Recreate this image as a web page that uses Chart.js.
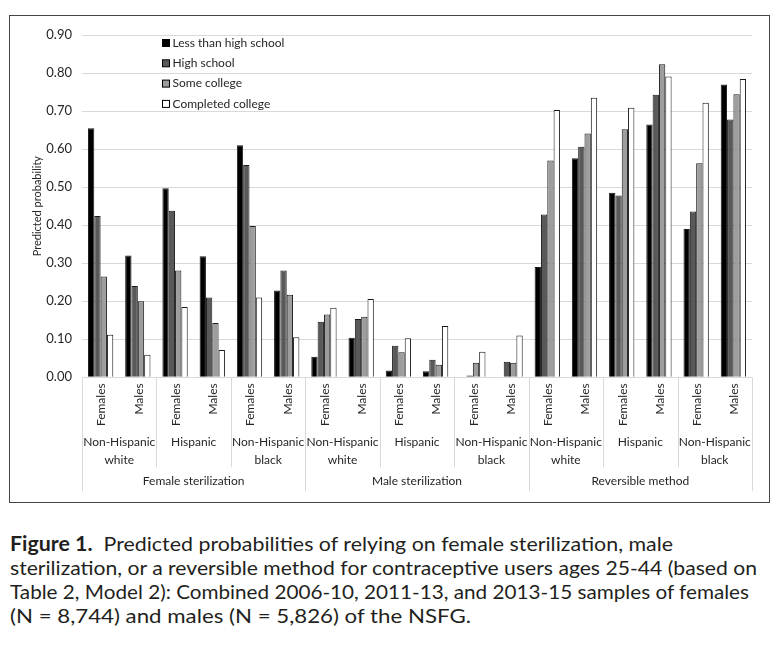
<!DOCTYPE html>
<html>
<head>
<meta charset="utf-8">
<script src="https://cdn.jsdelivr.net/npm/chart.js@4.4.1/dist/chart.umd.min.js"></script>
<style>
    html, body { margin: 0; padding: 0; background: #fff; }
    body { width: 781px; height: 648px; position: relative; overflow: hidden; font-family: Lato, sans-serif; }
    #chart { position: absolute; left: 0; top: 0; }
    #frame { position: absolute; left: 9px; top: 15px; width: 761px; height: 488px; border: 1.5px solid #454545; box-sizing: border-box; }
    #caption { position: absolute; left: 10px; top: 531px; font-size: 20px; line-height: 24px; color: #231f20; }
    .ln { display: block; white-space: nowrap; transform-origin: 0 0; }
</style>
</head>
<body>
<div id="frame"></div>
<canvas id="chart" width="781" height="515"></canvas>
<div id="caption">
    <span class="ln" data-w="663"><b>Figure 1.</b>&nbsp; Predicted probabilities of relying on female sterilization, male</span>
    <span class="ln" data-w="747">sterilization, or a reversible method for contraceptive users ages 25-44 (based on</span>
    <span class="ln" data-w="739">Table 2, Model 2): Combined 2006-10, 2011-13, and 2013-15 samples of females</span>
    <span class="ln" data-w="461">(N = 8,744) and males (N = 5,826) of the NSFG.</span>
</div>
<script>
const CATEGORIES = [
    'Females', 'Males', 'Females', 'Males', 'Females', 'Males',
    'Females', 'Males', 'Females', 'Males', 'Females', 'Males',
    'Females', 'Males', 'Females', 'Males', 'Females', 'Males',
];
const RACE_GROUPS = [
    ['Non-Hispanic', 'white'], ['Hispanic'], ['Non-Hispanic', 'black'],
    ['Non-Hispanic', 'white'], ['Hispanic'], ['Non-Hispanic', 'black'],
    ['Non-Hispanic', 'white'], ['Hispanic'], ['Non-Hispanic', 'black'],
];
const METHODS = ['Female sterilization', 'Male sterilization', 'Reversible method'];

const SERIES_NAMES = ['Less than high school', 'High school', 'Some college', 'Completed college'];
const LESS_THAN_HS = [0.655, 0.320, 0.497, 0.318, 0.610, 0.228, 0.054, 0.104, 0.018, 0.016, 0.000, 0.000, 0.290, 0.576, 0.485, 0.665, 0.390, 0.770];
const HIGH_SCHOOL = [0.424, 0.240, 0.438, 0.210, 0.558, 0.281, 0.146, 0.153, 0.083, 0.046, 0.005, 0.041, 0.428, 0.606, 0.478, 0.743, 0.436, 0.678];
const SOME_COLLEGE = [0.265, 0.200, 0.281, 0.143, 0.398, 0.217, 0.165, 0.159, 0.066, 0.033, 0.038, 0.038, 0.570, 0.641, 0.652, 0.823, 0.563, 0.744];
const COMPLETED_COLLEGE = [0.112, 0.059, 0.185, 0.072, 0.210, 0.105, 0.183, 0.206, 0.103, 0.135, 0.067, 0.110, 0.703, 0.735, 0.709, 0.791, 0.722, 0.784];

const Y_TICKS = [0, 0.1, 0.2, 0.3, 0.4, 0.5, 0.6, 0.7, 0.8, 0.9];

const COLORS = {
    fills: ['#000000', '#595959', '#9d9d9d', '#ffffff'],
    edge: '#1a1a1a',
    grid: '#d9d9d9',
    text: '#262626',
};
const FONT = 'Lato, sans-serif';

// axis labels, separators, legend and y title drawn on top of the library's scales
const decorations = {
    id: 'decorations',
    afterDraw(chart) {
        const { ctx, scales: { x, y } } = chart;
        const step = x.getPixelForValue(1) - x.getPixelForValue(0);
        const base = y.getPixelForValue(0);
        ctx.save();
        ctx.fillStyle = COLORS.text;

        // gender labels
        ctx.font = `12px ${FONT}`;
        ctx.textAlign = 'right';
        ctx.textBaseline = 'middle';
        CATEGORIES.forEach((label, i) => {
            ctx.save();
            ctx.translate(x.getPixelForValue(i) + 1, base + 6);
            ctx.rotate(-Math.PI / 2);
            ctx.fillText(label, 0, 0);
            ctx.restore();
        });

        // separators
        ctx.strokeStyle = COLORS.grid;
        ctx.lineWidth = 1;
        for (let k = 0; k <= CATEGORIES.length; k += 2) {
            const px = Math.round(x.getPixelForValue(k) - step / 2) + 0.5;
            const bottom = k % 6 === 0 ? base + 114 : base + 90;
            ctx.beginPath();
            ctx.moveTo(px, base);
            ctx.lineTo(px, bottom);
            ctx.stroke();
        }

        // race labels
        ctx.textAlign = 'center';
        RACE_GROUPS.forEach((lines, g) => {
            const cx = (x.getPixelForValue(2 * g) + x.getPixelForValue(2 * g + 1)) / 2;
            lines.forEach((t, j) => ctx.fillText(t, cx, base + 65 + j * 18));
        });

        // method labels
        METHODS.forEach((t, m) => {
            const cx = (x.getPixelForValue(6 * m) + x.getPixelForValue(6 * m + 5)) / 2;
            ctx.fillText(t, cx, base + 104);
        });

        // y title
        ctx.font = `11px ${FONT}`;
        ctx.save();
        ctx.translate(37, (y.top + y.bottom) / 2);
        ctx.rotate(-Math.PI / 2);
        ctx.fillText('Predicted probability', 0, 0);
        ctx.restore();

        // legend inside the plot
        ctx.font = `12px ${FONT}`;
        ctx.textAlign = 'left';
        chart.data.datasets.forEach((ds, i) => {
            const ly = 43 + i * 20.3;
            ctx.fillStyle = ds.backgroundColor;
            ctx.fillRect(162.5, ly - 3.5, 7, 7);
            ctx.strokeStyle = '#000';
            ctx.strokeRect(162.5, ly - 3.5, 7, 7);
            ctx.fillStyle = COLORS.text;
            ctx.fillText(ds.label, 172.5, ly);
        });
        ctx.restore();
    },
};

const seriesValues = [LESS_THAN_HS, HIGH_SCHOOL, SOME_COLLEGE, COMPLETED_COLLEGE];

new Chart(document.getElementById('chart'), {
    type: 'bar',
    data: {
        labels: CATEGORIES,
        datasets: seriesValues.map((values, i) => ({
            label: SERIES_NAMES[i],
            data: values,
            backgroundColor: COLORS.fills[i],
            borderColor: COLORS.edge,
            borderWidth: 1,
            categoryPercentage: 0.68,
            barPercentage: 1,
        })),
    },
    options: {
        responsive: false,
        animation: false,
        layout: { padding: { top: 35, right: 29, bottom: 0, left: 0 } },
        plugins: { legend: { display: false }, tooltip: { enabled: false } },
        scales: {
            x: {
                grid: { display: false },
                border: { display: false },
                ticks: { display: false },
                afterFit(scale) { scale.height = 515 - 377.3; },
            },
            y: {
                min: 0,
                max: 0.9,
                afterBuildTicks(scale) { scale.ticks = Y_TICKS.map((v) => ({ value: v })); },
                grid: { color: COLORS.grid, lineWidth: 1, drawTicks: false },
                border: { display: false },
                ticks: {
                    padding: 10,
                    color: COLORS.text,
                    font: { family: FONT, size: 13 },
                    callback: (v) => Number(v).toFixed(2),
                },
                afterFit(scale) { scale.width = 82; },
            },
        },
    },
    plugins: [decorations],
});

// fit caption lines to the widths in the reference
document.querySelectorAll('.ln').forEach((el) => {
    el.style.display = 'inline-block';
    const w = el.getBoundingClientRect().width;
    el.style.display = 'block';
    el.style.width = w + 'px';
    el.style.transform = `scaleX(${Number(el.dataset.w) / w})`;
});
</script>
</body>
</html>
